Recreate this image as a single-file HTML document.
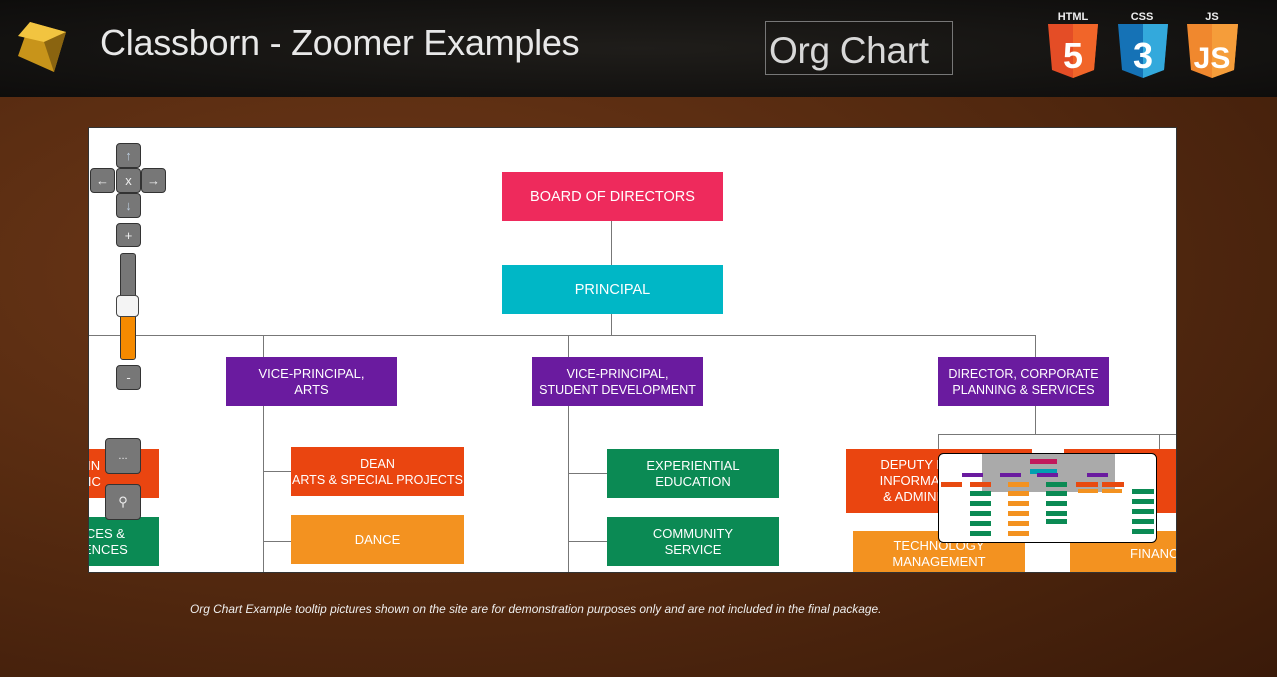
<!DOCTYPE html>
<html><head><meta charset="utf-8"><style>
*{margin:0;padding:0;box-sizing:border-box}
body{width:1277px;height:677px;overflow:hidden;position:relative;font-family:"Liberation Sans",sans-serif;
background:radial-gradient(ellipse at 30% 40%,#6e3818 0%,#552a10 50%,#3a1a09 100%);}
.hdr{position:absolute;left:0;top:0;width:1277px;height:97px;background:radial-gradient(ellipse at 50% 50%,#1f1d1a,#0e0d0c);}
.t{position:absolute;color:#e8e8e8;font-family:"Liberation Sans",sans-serif;font-weight:normal;white-space:nowrap}
.chart{position:absolute;left:88px;top:127px;width:1089px;height:446px;background:#fff;overflow:hidden;border:1px solid #333}
.b{position:absolute;color:#fff;font-size:13px;text-align:center;display:flex;align-items:center;justify-content:center;line-height:16px;white-space:nowrap;overflow:hidden}
.l{position:absolute;background:#777}
.btn{position:absolute;background:#777;border:1px solid #333;border-radius:4px;color:#eee;font-size:13px;display:flex;align-items:center;justify-content:center}
</style></head><body>
<div class="hdr"></div>
<svg style="position:absolute;left:14px;top:20px" width="56" height="54"><polygon points="16,2 52,12 40,52 4,36" fill="#c8941a"/><polygon points="16,2 52,12 30,22 4,16" fill="#f2c440"/><polygon points="30,22 52,12 40,52" fill="#8a6410"/></svg>
<div class="t" style="left:100px;top:22px;font-size:36px;letter-spacing:-0.25px">Classborn - Zoomer Examples</div>
<div style="position:absolute;left:765px;top:21px;width:188px;height:54px;border:1px solid #777"></div>
<div class="t" style="left:769px;top:30px;font-size:37px;color:#d8d8d8;letter-spacing:-0.3px">Org Chart</div>
<svg style="position:absolute;left:1046px;top:8px" width="200" height="74">
<g font-family="Liberation Sans" font-weight="bold" font-size="11" fill="#eee" text-anchor="middle"><text x="27" y="12">HTML</text><text x="96" y="12">CSS</text><text x="166" y="12">JS</text></g>
<polygon points="2,16 52,16 48,62 27,70 6,62" fill="#e44d26"/><polygon points="27,16 52,16 48,62 27,70" fill="#f16529"/>
<text x="27" y="60" font-family="Liberation Sans" font-weight="bold" font-size="36" fill="#fff" text-anchor="middle">5</text>
<polygon points="72,16 122,16 118,62 97,70 76,62" fill="#1572b6"/><polygon points="97,16 122,16 118,62 97,70" fill="#33a9dc"/>
<text x="97" y="60" font-family="Liberation Sans" font-weight="bold" font-size="36" fill="#fff" text-anchor="middle">3</text>
<polygon points="141,16 192,16 188,62 166,70 145,62" fill="#f0882e"/><polygon points="166,16 192,16 188,62 166,70" fill="#f59d3a"/>
<text x="166" y="60" font-family="Liberation Sans" font-weight="bold" font-size="30" fill="#fff" text-anchor="middle">JS</text>
</svg>

<div class="chart">
<div class="l" style="left:522px;top:93px;width:1px;height:44px"></div>
<div class="l" style="left:522px;top:186px;width:1px;height:22px"></div>
<div class="l" style="left:0;top:207px;width:947px;height:1px"></div>
<div class="l" style="left:174px;top:207px;width:1px;height:240px"></div>
<div class="l" style="left:479px;top:207px;width:1px;height:240px"></div>
<div class="l" style="left:946px;top:207px;width:1px;height:99px"></div>
<div class="l" style="left:174px;top:343px;width:28px;height:1px"></div>
<div class="l" style="left:174px;top:413px;width:28px;height:1px"></div>
<div class="l" style="left:479px;top:345px;width:39px;height:1px"></div>
<div class="l" style="left:479px;top:413px;width:39px;height:1px"></div>
<div class="l" style="left:849px;top:306px;width:240px;height:1px"></div>
<div class="l" style="left:849px;top:306px;width:1px;height:20px"></div>
<div class="l" style="left:1070px;top:306px;width:1px;height:20px"></div>

<div class="b" style="left:413px;top:44px;width:221px;height:49px;background:#ee2a5c;font-size:14.5px">BOARD OF DIRECTORS</div>
<div class="b" style="left:413px;top:137px;width:221px;height:49px;background:#00b7c6;font-size:14.5px">PRINCIPAL</div>
<div class="b" style="left:137px;top:229px;width:171px;height:49px;background:#6a1b9f">VICE-PRINCIPAL,<br>ARTS</div>
<div class="b" style="left:443px;top:229px;width:171px;height:49px;background:#6a1b9f;font-size:12.5px">VICE-PRINCIPAL,<br>STUDENT DEVELOPMENT</div>
<div class="b" style="left:849px;top:229px;width:171px;height:49px;background:#6a1b9f;font-size:12.5px">DIRECTOR, CORPORATE<br>PLANNING &amp; SERVICES</div>
<div class="b" style="left:202px;top:319px;width:173px;height:49px;background:#ea4510;font-size:12.5px">DEAN<br>ARTS &amp; SPECIAL PROJECTS</div>
<div class="b" style="left:202px;top:387px;width:173px;height:49px;background:#f39220">DANCE</div>
<div class="b" style="left:518px;top:321px;width:172px;height:49px;background:#0b8a54">EXPERIENTIAL<br>EDUCATION</div>
<div class="b" style="left:518px;top:389px;width:172px;height:49px;background:#0b8a54">COMMUNITY<br>SERVICE</div>
<div class="b" style="left:757px;top:321px;width:186px;height:64px;background:#ea4510"><span style="display:block;width:186px;text-align:center;padding-left:10px">DEPUTY DIRECTOR,<br>INFORMATION TECH<br>&amp; ADMINISTRATION</span></div>
<div class="b" style="left:975px;top:321px;width:114px;height:64px;background:#ea4510;justify-content:flex-start;padding-left:22px;text-align:left">DIRE<br>MN</div>
<div class="b" style="left:764px;top:403px;width:172px;height:46px;background:#f39220">TECHNOLOGY<br>MANAGEMENT</div>
<div class="b" style="left:981px;top:403px;width:108px;height:46px;background:#f39220;justify-content:flex-start;padding-left:60px">FINANCE</div>
<div class="b" style="left:0px;top:321px;width:70px;height:49px;background:#ea4510;justify-content:flex-start"><span style="margin-left:-12px;text-align:center">RIN<br>MIC</span></div>
<div class="b" style="left:0px;top:389px;width:70px;height:49px;background:#0b8a54;justify-content:flex-start"><span style="margin-left:-6px;text-align:center">CES &amp;<br>ENCES</span></div>

<svg style="position:absolute;left:849px;top:325px" width="219" height="90">
<rect x="0.5" y="0.5" width="218" height="89" rx="5" fill="#fff" stroke="#000"/>
<rect x="44" y="1" width="133" height="38" fill="#aaa"/>
<rect x="92" y="6" width="27" height="5" fill="#c2185b"/><rect x="92" y="16" width="27" height="5" fill="#00a0b0"/>
<g fill="#6a1b9f"><rect x="24" y="20" width="21" height="4"/><rect x="62" y="20" width="21" height="4"/><rect x="99" y="20" width="21" height="4"/><rect x="149" y="20" width="21" height="4"/></g>
<g fill="#e84a10"><rect x="3" y="29" width="21" height="5"/><rect x="32" y="29" width="21" height="5"/><rect x="138" y="29" width="22" height="5"/><rect x="164" y="29" width="22" height="5"/></g>
<g fill="#0b8a54"><rect x="32" y="38" width="21" height="5"/><rect x="32" y="48" width="21" height="5"/><rect x="32" y="58" width="21" height="5"/><rect x="32" y="68" width="21" height="5"/><rect x="32" y="78" width="21" height="5"/><rect x="108" y="29" width="21" height="5"/><rect x="108" y="38" width="21" height="5"/><rect x="108" y="48" width="21" height="5"/><rect x="108" y="58" width="21" height="5"/><rect x="108" y="66" width="21" height="5"/><rect x="194" y="36" width="22" height="5"/><rect x="194" y="46" width="22" height="5"/><rect x="194" y="56" width="22" height="5"/><rect x="194" y="66" width="22" height="5"/><rect x="194" y="76" width="22" height="5"/></g>
<g fill="#f39220"><rect x="70" y="29" width="21" height="5"/><rect x="70" y="38" width="21" height="5"/><rect x="70" y="48" width="21" height="5"/><rect x="70" y="58" width="21" height="5"/><rect x="70" y="68" width="21" height="5"/><rect x="70" y="78" width="21" height="5"/><rect x="140" y="36" width="20" height="4"/><rect x="164" y="36" width="20" height="4"/></g>
</svg>
</div>

<div class="btn" style="left:116px;top:143px;width:25px;height:25px;color:#bcd">↑</div>
<div class="btn" style="left:90px;top:168px;width:25px;height:25px">←</div>
<div class="btn" style="left:116px;top:168px;width:25px;height:25px">x</div>
<div class="btn" style="left:141px;top:168px;width:25px;height:25px">→</div>
<div class="btn" style="left:116px;top:193px;width:25px;height:25px;color:#bcd">↓</div>
<div class="btn" style="left:116px;top:223px;width:25px;height:24px">+</div>
<div style="position:absolute;left:120px;top:253px;width:16px;height:107px;background:#777;border:1px solid #333;border-radius:3px;overflow:hidden"><div style="position:absolute;left:0;top:60px;width:16px;height:50px;background:#f58a00"></div></div>
<div style="position:absolute;left:116px;top:295px;width:23px;height:22px;background:#f4f4f4;border:1px solid #444;border-radius:4px"></div>
<div class="btn" style="left:116px;top:365px;width:25px;height:25px">-</div>
<div class="btn" style="left:105px;top:438px;width:36px;height:36px;font-size:11px">...</div>
<div class="btn" style="left:105px;top:484px;width:36px;height:36px">&#9906;</div>

<div style="position:absolute;left:190px;top:602px;color:#eee;font-size:11.9px;font-style:italic;font-family:'Liberation Sans',sans-serif;white-space:nowrap">Org Chart Example tooltip pictures shown on the site are for demonstration purposes only and are not included in the final package.</div>
</body></html>
